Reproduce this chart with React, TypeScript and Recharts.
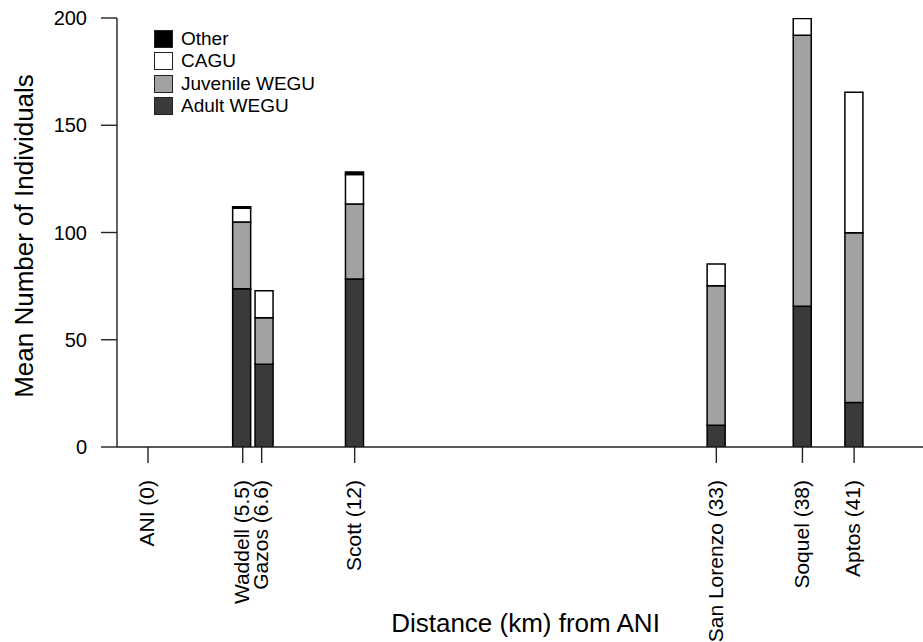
import React from 'react';
import { ComposedChart, Bar, XAxis, YAxis, Legend } from 'recharts';

// ---- data ----
const sites = ['ANI', 'Waddell', 'Gazos', 'Scott', 'San Lorenzo', 'Soquel', 'Aptos'];
const distances = [0, 5.5, 6.6, 12, 33, 38, 41];
// bar centres (km) as drawn; Gazos is nudged right so it does not touch Waddell
const barPositions = [0, 5.45, 6.75, 12, 33, 38, 41];
const adultWEGU = [0, 73.8, 38.6, 78.3, 10.1, 65.6, 20.7];
const juvenileWEGU = [0, 31.1, 21.7, 35.0, 65.1, 126.4, 79.2];
const cagu = [0, 6.4, 12.6, 13.7, 10.1, 7.8, 65.5];
const other = [0, 0.7, 0, 1.2, 0, 0, 0];
const yTicks = [0, 50, 100, 150, 200];

const seriesKeys = ['adult', 'juvenile', 'cagu', 'other'];
const seriesNames = ['Adult WEGU', 'Juvenile WEGU', 'CAGU', 'Other'];
const seriesColors = ['#3a3a3a', '#a2a2a2', '#ffffff', '#000000'];

const data = sites.map((s, i) => ({
  site: s,
  pos: barPositions[i],
  adult: adultWEGU[i],
  juvenile: juvenileWEGU[i],
  cagu: cagu[i],
  other: other[i],
}));

const FONT = '"Liberation Sans", Arial, Helvetica, sans-serif';

const XTick = (props: any) => {
  const { x, y, payload } = props;
  const idx = distances.indexOf(payload.value);
  const label = idx >= 0 ? `${sites[idx]} (${distances[idx]})` : '';
  return (
    <text
      transform={`translate(${x},${y}) rotate(-90)`}
      textAnchor="end"
      dy="0.3em"
      fontSize={21}
      fontFamily={FONT}
      fill="#000"
    >
      {label}
    </text>
  );
};

const LegendContent = () => {
  const order = [3, 2, 1, 0];
  return (
    <div style={{ fontFamily: FONT }}>
      {order.map((i) => (
        <div
          key={seriesKeys[i]}
          style={{ display: 'flex', alignItems: 'center', height: 22.33 }}
        >
          <div
            style={{
              width: 19,
              height: 18,
              boxSizing: 'border-box',
              border: '1.5px solid #222',
              background: seriesColors[i],
            }}
          />
          <span style={{ marginLeft: 8, fontSize: 19, color: '#000', lineHeight: '22px' }}>
            {seriesNames[i]}
          </span>
        </div>
      ))}
    </div>
  );
};

export default function App() {
  return (
    <div style={{ position: 'absolute', left: 0, top: 0, width: 923, height: 642, background: '#fff' }}>
      <ComposedChart
        width={923}
        height={642}
        data={data}
        margin={{ top: 18, right: 0, bottom: 0, left: 0 }}
        style={{ fontFamily: FONT }}
      >
        <XAxis
          type="number"
          dataKey="pos"
          domain={[-1.8, 45]}
          allowDataOverflow
          ticks={distances}
          interval={0}
          height={195}
          tickSize={16}
          tickMargin={17}
          axisLine={{ stroke: '#222', strokeWidth: 1.4 }}
          tickLine={{ stroke: '#222', strokeWidth: 1.4 }}
          tick={<XTick />}
          label={{
            content: () => (
              <text x={525.5} y={632} textAnchor="middle" fontSize={26} fontFamily={FONT} fill="#000">
                Distance (km) from ANI
              </text>
            ),
          }}
        />
        <YAxis
          type="number"
          domain={[0, 200]}
          allowDataOverflow
          ticks={yTicks}
          interval={0}
          width={117}
          tickSize={16}
          tickMargin={14}
          axisLine={{ stroke: '#222', strokeWidth: 1.4 }}
          tickLine={{ stroke: '#222', strokeWidth: 1.4 }}
          tick={{ fontSize: 20, fill: '#000', fontFamily: FONT }}
          label={{
            content: () => (
              <text
                transform="translate(33,236) rotate(-90)"
                textAnchor="middle"
                fontSize={26}
                fontFamily={FONT}
                fill="#000"
              >
                Mean Number of Individuals
              </text>
            ),
          }}
        />
        <Legend
          layout="vertical"
          align="center"
          verticalAlign="middle"
          wrapperStyle={{ left: 154, top: 27.8, width: 'auto', height: 'auto' }}
          content={<LegendContent />}
        />
        {seriesKeys.map((k, i) => (
          <Bar
            key={k}
            dataKey={k}
            name={seriesNames[i]}
            stackId="a"
            barSize={18}
            fill={seriesColors[i]}
            stroke="#000"
            strokeWidth={1.5}
            isAnimationActive={false}
          />
        ))}
      </ComposedChart>
    </div>
  );
}
